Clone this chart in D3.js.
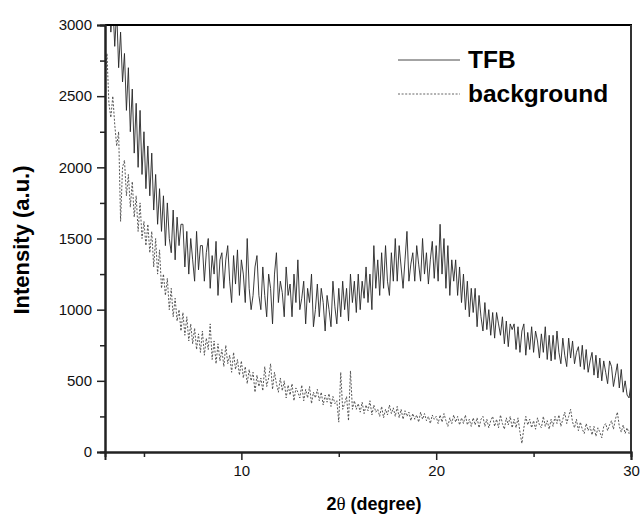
<!DOCTYPE html>
<html>
<head>
<meta charset="utf-8">
<script src="https://cdn.jsdelivr.net/npm/d3@7/dist/d3.min.js"></script>
<style>
html,body{margin:0;padding:0;background:#fff;}
svg{display:block;}
</style>
</head>
<body>
<svg id="chart" width="642" height="516"></svg>
<script>
// ---- data ----
const xStart = 3.0, xStep = 0.1; // 2θ sampling of both patterns
const tfbValues = [
3400,3100,3300,2950,3150,2850,3100,2700,2950,2600,
2800,2400,2700,2250,2550,2100,2450,2000,2400,1950,
2250,1850,2150,1800,2100,1700,1950,1600,1850,1550,
1800,1450,1750,1500,1400,1700,1350,1650,1450,1600,
1600,1300,1550,1250,1500,1350,1200,1550,1280,1450,
1450,1200,1400,1500,1150,1380,1250,1480,1100,1350,
1400,1150,1350,1450,1200,1050,1380,1180,1420,1100,
1350,1250,1050,1500,1150,1000,1100,1300,1380,1100,
1000,1300,1100,950,1250,1150,900,1250,1400,1050,
1200,1120,950,1300,1100,1180,950,1250,1050,1350,
1000,1080,1200,900,1150,1050,1250,880,1000,1180,
950,1150,1050,850,1100,1000,880,1200,1020,900,
1150,950,1200,1000,1150,920,1250,1050,1200,980,
1250,1000,1200,1080,1300,1050,1250,1000,1450,1150,
1350,1100,1400,1150,1450,1200,1100,1400,1200,1500,
1200,1450,1300,1150,1350,1550,1200,1320,1400,1200,
1450,1320,1200,1500,1250,1400,1180,1350,1480,1220,
1450,1200,1600,1250,1500,1150,1450,1100,1350,1200,
1350,1100,1300,1050,1250,1000,1200,950,1150,980,
1150,880,1100,950,850,1050,860,1000,820,980,
800,980,900,820,950,760,920,740,900,860,
900,720,880,700,850,900,680,840,720,880,
700,850,780,660,830,700,880,650,820,640,
820,650,850,700,620,800,680,600,800,660,
780,620,700,740,600,750,580,720,560,640,
700,540,680,520,660,500,640,560,480,640,
600,460,540,620,450,580,420,500,400,380,
480
];
const backgroundValues = [
2600,2800,2450,2350,2500,2300,2150,2250,1620,2000,
2050,1800,1950,1720,1900,1650,1800,1550,1750,1500,
1620,1450,1600,1400,1550,1300,1500,1250,1420,1150,
1250,1100,1220,1000,1150,950,1080,920,1000,850,
980,820,950,780,900,760,870,720,830,700,
850,680,800,720,900,650,780,620,760,640,
720,600,750,620,680,560,700,580,650,540,
640,520,600,480,580,500,560,420,540,460,
520,430,600,460,520,620,440,560,480,420,
520,430,500,380,470,400,480,360,450,420,
380,470,360,440,380,460,340,420,380,440,
360,420,330,400,350,410,320,390,340,360,
210,560,300,340,390,220,570,300,360,300,
340,280,350,270,330,290,360,260,330,280,
300,250,320,240,300,260,330,270,310,250,
320,240,300,230,290,250,280,220,270,230,
260,210,280,230,270,220,250,200,260,230,
250,200,260,210,270,220,180,240,200,260,
210,250,190,240,200,260,190,230,180,240,
190,240,170,230,250,180,230,170,220,250,
180,230,170,260,200,160,240,190,250,170,
230,170,240,140,60,170,250,190,230,170,
220,160,240,190,170,250,180,220,160,230,
180,250,200,260,180,230,280,200,250,300,
210,170,230,150,210,160,130,200,150,180,
120,180,110,170,140,100,180,200,150,190,
220,160,230,280,180,140,190,130,170,130,
160
];
const seriesNames = ["TFB","background"];
const xMajorTicks = [10,20,30];
const xMinorTicks = [5,15,25];
const yMajorTicks = [0,500,1000,1500,2000,2500,3000];
const yMinorTicks = [250,750,1250,1750,2250,2750];
const xTitleParts = ["2","θ"," (degree)"];
const yTitle = "Intensity (a.u.)";

// ---- layout ----
const svg = d3.select("#chart");
const L = 105, R = 631, T = 25, B = 452;
const x = d3.scaleLinear().domain([3,30]).range([L,R]);
const y = d3.scaleLinear().domain([0,3000]).range([B,T]);

const toPts = vals => vals.map((v,i)=>({x: xStart + i*xStep, y: v}));
const tfb = toPts(tfbValues), bg = toPts(backgroundValues);

svg.append("clipPath").attr("id","clip").append("rect")
  .attr("x",L).attr("y",T).attr("width",R-L).attr("height",B-T);

const line = d3.line().x(d=>x(d.x)).y(d=>y(d.y));
const g = svg.append("g").attr("clip-path","url(#clip)");
g.append("path").datum(bg).attr("d",line)
  .attr("fill","none").attr("stroke","#444").attr("stroke-width",0.9)
  .attr("stroke-dasharray","2,1.6");
g.append("path").datum(tfb).attr("d",line)
  .attr("fill","none").attr("stroke","#262626").attr("stroke-width",0.9);

// frame top/right
svg.append("line").attr("x1",L).attr("x2",R+1).attr("y1",T).attr("y2",T)
  .attr("stroke","#000").attr("stroke-width",2);
svg.append("line").attr("x1",R).attr("x2",R).attr("y1",T).attr("y2",B)
  .attr("stroke","#333").attr("stroke-width",2);

const font = "Arial, 'Liberation Sans', Helvetica, sans-serif";

// axes
const xAxis = svg.append("g").attr("transform",`translate(0,${B})`)
  .call(d3.axisBottom(x).tickValues(xMajorTicks).tickSize(8).tickPadding(5).tickFormat(d3.format("d")));
const xMinor = svg.append("g").attr("transform",`translate(0,${B})`)
  .call(d3.axisBottom(x).tickValues(xMinorTicks).tickSize(5).tickFormat(""));
const yAxis = svg.append("g").attr("transform",`translate(${L},0)`)
  .call(d3.axisLeft(y).tickValues(yMajorTicks).tickSize(8).tickPadding(5).tickFormat(d3.format("d")));
const yMinor = svg.append("g").attr("transform",`translate(${L},0)`)
  .call(d3.axisLeft(y).tickValues(yMinorTicks).tickSize(5).tickFormat(""));

[xAxis,xMinor,yAxis,yMinor].forEach(a=>{
  a.select(".domain").attr("stroke","#222").attr("stroke-width",2);
  a.selectAll(".tick line").attr("stroke","#222").attr("stroke-width",1.5);
  a.selectAll(".tick text").attr("font-family",font).attr("font-size",15).attr("fill","#111");
});

// titles
const xt = svg.append("text").attr("x",374).attr("y",510).attr("text-anchor","middle")
  .attr("font-family",font).attr("font-size",18).attr("font-weight","bold");
xt.append("tspan").text(xTitleParts[0]);
xt.append("tspan").attr("font-family","'Liberation Serif','Times New Roman',serif")
  .attr("font-weight","normal").attr("font-size",19).text(xTitleParts[1]);
xt.append("tspan").text(xTitleParts[2]);

svg.append("text").attr("transform","translate(29,240) rotate(-90)")
  .attr("text-anchor","middle").attr("font-family",font).attr("font-size",22)
  .attr("font-weight","bold").text(yTitle);

// legend
const leg = svg.append("g");
const legY = [60,94];
seriesNames.forEach((name,i)=>{
  leg.append("line").attr("x1",398).attr("x2",460).attr("y1",legY[i]).attr("y2",legY[i])
    .attr("stroke", i===0 ? "#333" : "#555").attr("stroke-width",0.9)
    .attr("stroke-dasharray", i===0 ? null : "2,1.6");
  leg.append("text").attr("x",468).attr("y",legY[i]+8)
    .attr("font-family",font).attr("font-size",24.5).attr("font-weight","bold")
    .attr("fill","#000").text(name);
});
</script>
</body>
</html>
